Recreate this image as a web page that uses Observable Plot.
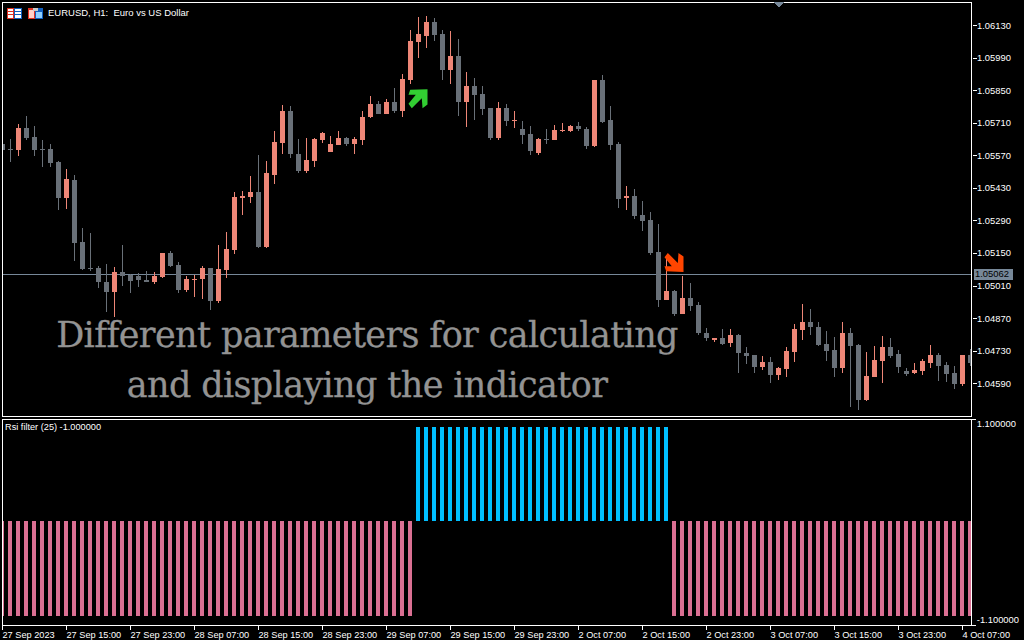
<!DOCTYPE html>
<html>
<head>
<meta charset="utf-8">
<script src="https://cdn.jsdelivr.net/npm/d3@7"></script>
<script src="https://cdn.jsdelivr.net/npm/@observablehq/plot@0.6"></script>
<style>
html,body{margin:0;padding:0;background:#000;overflow:hidden}
#stage{position:relative;width:1024px;height:640px;background:#000;overflow:hidden}
#stage svg.plotlayer{position:absolute;left:0;top:0;background:transparent}
.lbl{position:absolute;color:#fff;font:9.5px "Liberation Sans",sans-serif;white-space:pre;line-height:12px}
.cap{position:absolute;left:27px;width:680px;text-align:center;color:#939393;font:35px "DejaVu Serif",serif;letter-spacing:-0.63px;-webkit-text-stroke:0.3px #939393;white-space:pre;line-height:50px}
</style>
</head>
<body>
<div id="stage"></div>
<script>
// Prices are in points (1e-5), one entry per H1 bar
const open = [105621,105598,105595,105690,105651,105599,105599,105543,105389,105466,
105199,105088,105088,105027,104984,105070,105057,105053,105036,105027,
105049,105152,105100,104993,105036,105040,105088,104946,105079,105165,
105389,105393,105414,105178,105487,105625,105763,105578,105505,105548,
105638,105586,105616,105647,105621,105638,105737,105793,105750,105801,
105763,105896,106059,106085,106145,106094,105939,105999,105801,105870,
105836,105776,105647,105776,105720,105685,105664,105582,105642,105638,
105677,105677,105698,105685,105612,105896,105724,105621,105389,105397,
105315,105294,105156,104950,104989,104890,104959,104928,104808,104778,
104787,104765,104799,104722,104713,104662,104683,104627,104653,104726,
104821,104855,104834,104761,104735,104658,104808,104756,104520,104619,
104688,104748,104718,104645,104636,104645,104679,104713,104670,104636,
104589,104713];
const close = [105595,105595,105690,105647,105595,105595,105539,105389,105470,105195,
105083,105083,105027,104984,105070,105053,105032,105036,105027,105053,
105152,105096,104993,105040,105040,105088,104946,105083,105169,105393,
105397,105414,105178,105496,105629,105763,105578,105505,105552,105642,
105668,105621,105647,105621,105642,105737,105793,105750,105801,105763,
105900,106064,106094,106145,106089,105939,105999,105801,105870,105831,
105771,105647,105776,105720,105724,105659,105591,105642,105638,105681,
105681,105698,105685,105612,105896,105715,105616,105384,105397,105311,
105290,105152,104950,104989,104890,104959,104924,104808,104787,104787,
104761,104799,104722,104709,104662,104683,104627,104658,104731,104825,
104855,104834,104756,104731,104658,104808,104752,104520,104623,104692,
104748,104709,104662,104632,104649,104688,104713,104666,104632,104589,
104713,104679];
const high = [105621,105642,105707,105741,105698,105638,105621,105548,105513,105487,
105260,105238,105096,105105,105092,105186,105062,105066,105075,105070,
105152,105161,105113,105053,105057,105096,105088,105186,105242,105414,
105419,105483,105573,105548,105677,105788,105784,105642,105647,105647,
105672,105655,105677,105651,105651,105763,105827,105806,105814,105862,
105922,106111,106167,106171,106163,106111,106107,106072,105930,105905,
105870,105776,105801,105793,105763,105720,105698,105647,105685,105702,
105711,105702,105715,105694,105896,105917,105784,105629,105440,105427,
105376,105328,105277,105126,104993,105053,105023,104941,104830,104787,
104825,104825,104804,104748,104713,104709,104705,104662,104748,104847,
104933,104911,104855,104817,104791,104855,104830,104761,104726,104752,
104795,104787,104735,104658,104679,104696,104756,104722,104683,104666,
104713,104739];
const low = [105595,105543,105569,105638,105569,105522,105522,105337,105341,105118,
105079,105075,105002,104898,104877,105010,104980,105006,105027,105019,
105045,105092,104980,104984,104963,104954,104907,104937,105045,105148,
105315,105367,105174,105174,105449,105578,105561,105496,105496,105522,
105625,105586,105616,105612,105578,105616,105733,105750,105750,105754,
105737,105879,105991,106034,106064,105896,105879,105741,105694,105724,
105745,105638,105638,105698,105690,105621,105573,105573,105621,105638,
105672,105672,105677,105599,105608,105711,105595,105346,105337,105298,
105247,105143,104920,104950,104881,104890,104903,104799,104774,104769,
104756,104748,104636,104675,104636,104649,104593,104606,104619,104683,
104778,104799,104752,104688,104619,104636,104490,104477,104516,104619,
104593,104701,104636,104623,104632,104627,104658,104602,104597,104567,
104580,104666];
const rsiFilter = [-1,-1,-1,-1,-1,-1,-1,-1,-1,-1,-1,-1,-1,-1,-1,-1,-1,-1,-1,-1,-1,-1,-1,-1,-1,-1,
-1,-1,-1,-1,-1,-1,-1,-1,-1,-1,-1,-1,-1,-1,-1,-1,-1,-1,-1,-1,-1,-1,-1,-1,-1,-1,
1,1,1,1,1,1,1,1,1,1,1,1,1,1,1,1,1,1,1,1,1,1,1,1,1,1,1,1,1,1,1,1,
-1,-1,-1,-1,-1,-1,-1,-1,-1,-1,-1,-1,-1,-1,-1,-1,-1,-1,-1,-1,-1,-1,-1,-1,-1,-1,-1,-1,-1,-1,-1,-1,-1,-1,-1,-1,-1,-1];
const priceTicks = [106130,105990,105850,105710,105570,105430,105290,105150,105010,104870,104730,104590];
const timeTickBars = [0,8,16,24,32,40,48,56,64,72,80,88,96,104,112,120];
const timeTickLabels = ["27 Sep 2023","27 Sep 15:00","27 Sep 23:00","28 Sep 07:00","28 Sep 15:00","28 Sep 23:00","29 Sep 07:00","29 Sep 15:00","29 Sep 23:00","2 Oct 07:00","2 Oct 15:00","2 Oct 23:00","3 Oct 07:00","3 Oct 15:00","3 Oct 23:00","4 Oct 07:00"];
const currentPrice = [105062];
const buySignal = [{bar:52, price:105816}];
const sellSignal = [{bar:84, price:105115}];
const subLabels = [1.1,-1.1];

const UP="#ee8677", DOWN="#697078", LINE="#778899", PINK="#db7093", BLUE="#00bfff";
const AXISFONT='"Liberation Sans",sans-serif';
const bars = open.map((o,i)=>({i,o,c:close[i],h:high[i],l:low[i],r:rsiFilter[i]}));
const xScale = {domain:[0,121.125], axis:null};
const fmt = p => (p/1e5).toFixed(5);

function arrow(flip){
  const pts=[[-7.8,-9.2],[9.5,-9.8],[9.5,5.5],[4.5,9.2],[3.8,-0.8],[-6.2,9.2],[-9.5,4.8],[-2.2,-4.2],[-9.5,-4.2]];
  return {draw(ctx){pts.forEach(([x,y],k)=>{const Y=flip?-y:y;k?ctx.lineTo(x,Y):ctx.moveTo(x,Y)});ctx.closePath();}};
}

const main = Plot.plot({
  width:1024, height:418, marginLeft:2.5, marginRight:52.5, marginTop:2.5, marginBottom:1.5,
  style:{background:"transparent",fontFamily:AXISFONT,fontSize:"9.4px",color:"#fff"},
  x:xScale,
  y:{domain:[104449,106229], axis:null},
  marks:[
    Plot.ruleY(currentPrice,{x1:0,x2:121.125,stroke:LINE,shapeRendering:"crispEdges"}),
    Plot.ruleX(bars,{x:"i",y1:"l",y2:"h",stroke:d=>d.c>=d.o?UP:DOWN,dx:-0.5,clip:"frame",shapeRendering:"crispEdges"}),
    Plot.rect(bars,{x1:d=>d.i-0.3125,x2:d=>d.i+0.3125,y1:d=>Math.min(d.o,d.c),y2:d=>Math.max(d.o,d.c),fill:d=>d.c>=d.o?UP:DOWN,clip:"frame",shapeRendering:"crispEdges"}),
    Plot.dot(buySignal,{x:"bar",y:"price",symbol:arrow(false),fill:"#32cd32",dx:-1,r:5}),
    Plot.dot(sellSignal,{x:"bar",y:"price",symbol:arrow(true),fill:"#ff4500",dx:-1,r:5}),
    Plot.axisY({anchor:"right",ticks:priceTicks,tickFormat:fmt,tickSize:4,tickPadding:1,stroke:"#fff",fill:"#fff",dy:-0.5,shapeRendering:"crispEdges"}),
    Plot.frame({stroke:"#fff",dx:-0.5,dy:-0.5}),
    Plot.ruleY(currentPrice,{x1:121.4,x2:126.25,stroke:LINE,strokeWidth:11,shapeRendering:"crispEdges"}),
    Plot.text(currentPrice,{x:121.5,y:d=>d,text:fmt,textAnchor:"start",fill:"#000"})
  ]
});

const sub = Plot.plot({
  width:1024, height:640, marginLeft:2.5, marginRight:52.5, marginTop:419.5, marginBottom:14.5,
  style:{background:"transparent",fontFamily:AXISFONT,fontSize:"9.4px",color:"#fff"},
  x:xScale,
  y:{domain:[-1.1,1.1], range:[625,417.5], axis:null},
  marks:[
    Plot.rect(bars,{x1:d=>d.i-0.3125,x2:d=>d.i+0.1875,y1:0,y2:"r",fill:d=>d.r>0?BLUE:PINK,clip:"frame",shapeRendering:"crispEdges"}),
    Plot.axisX({anchor:"bottom",ticks:timeTickBars,tickFormat:d=>timeTickLabels[timeTickBars.indexOf(d)],tickSize:4,tickPadding:1,textAnchor:"start",stroke:"#fff",fill:"#fff",dx:-0.5,fontSize:9.2,shapeRendering:"crispEdges"}),
    Plot.ruleY(subLabels,{y:d=>d>0?1.08:d,x1:121.125,x2:121.625,stroke:"#fff",shapeRendering:"crispEdges"}),
    Plot.text(subLabels,{x:121.72,y:d=>d,text:d=>d.toFixed(6),textAnchor:"start",fill:"#fff",lineAnchor:"middle"}),
    Plot.frame({stroke:"#fff",dx:-0.5,dy:-0.5})
  ]
});

const stage=document.getElementById("stage");
[main,sub].forEach(s=>{s.classList.add("plotlayer");stage.appendChild(s)});

// The terminal keeps its two sub-window scale labels inside the window height
const subText=[...sub.querySelectorAll('g[aria-label="text"] text')];
subText.forEach((t,k)=>t.setAttribute("dy", k===0?"5.5":"-6"));

// Window furniture
function add(cls,txt,css){const d=document.createElement("div");d.className=cls;d.textContent=txt;d.style.cssText=css;stage.appendChild(d)}
add("lbl","EURUSD, H1:  Euro vs US Dollar","left:48px;top:7px");
add("lbl","Rsi filter (25) -1.000000","left:5px;top:421px;font-size:9.2px");
add("cap","Different parameters for calculating","top:310px");
add("cap","and displaying the indicator","top:360px");
const ns="http://www.w3.org/2000/svg";
const deco=document.createElementNS(ns,"svg");
deco.setAttribute("width",1024);deco.setAttribute("height",640);deco.setAttribute("class","plotlayer");
deco.innerHTML=`<g shape-rendering="crispEdges">
<polygon points="774,2 784,2 779,8" fill="#778899"/>
<rect x="7" y="8" width="7" height="11" fill="#e03020"/><rect x="14" y="8" width="8" height="11" fill="#1060c0"/>
<rect x="8" y="9" width="5" height="9" fill="#fff"/><rect x="15" y="9" width="6" height="9" fill="#fff"/>
<rect x="8" y="11" width="5" height="1" fill="#e03020"/><rect x="8" y="14" width="5" height="1" fill="#e03020"/>
<rect x="15" y="11" width="6" height="1" fill="#1060c0"/><rect x="15" y="14" width="6" height="1" fill="#1060c0"/>
<rect x="28" y="8" width="7" height="11" fill="#e03020"/><rect x="35" y="8" width="8" height="11" fill="#1060c0"/>
<rect x="29" y="10" width="5" height="8" fill="#ffd0c8"/><rect x="36" y="12" width="6" height="6" fill="#90d0ff"/>
<rect x="33" y="8" width="5" height="3" fill="#c8c8c8"/></g>`;
stage.appendChild(deco);
</script>
</body>
</html>
